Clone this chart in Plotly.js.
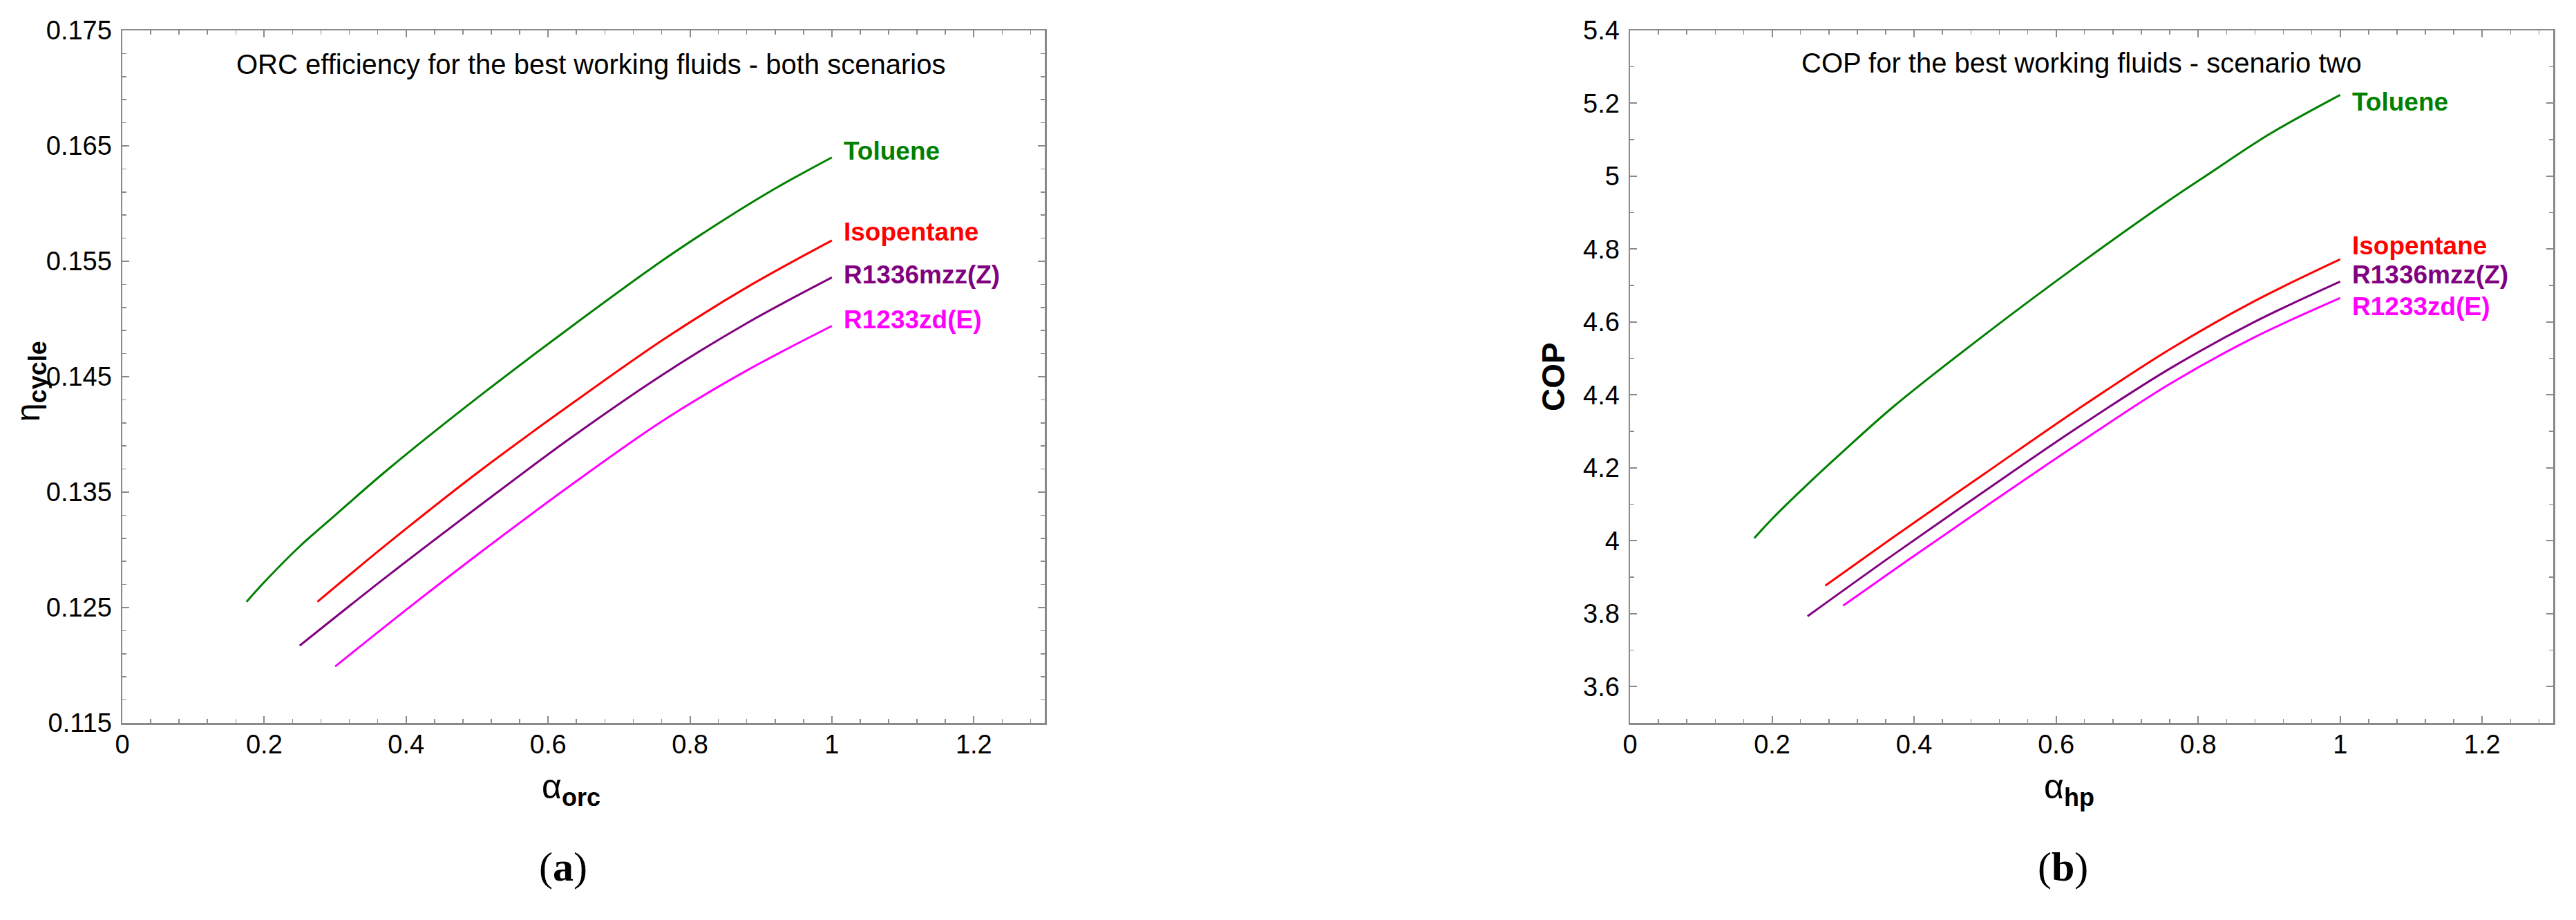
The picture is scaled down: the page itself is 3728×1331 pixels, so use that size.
<!DOCTYPE html>
<html>
<head>
<meta charset="utf-8">
<script src="https://cdn.plot.ly/plotly-3.0.1.min.js"></script>
<style>
  html, body { margin: 0; padding: 0; background: #fff; }
  #chart { width: 3728px; height: 1331px; }
</style>
</head>
<body>
<div id="chart"></div>
<script>
// (a) ORC efficiency vs alpha_orc
var fluids = ['Toluene', 'Isopentane', 'R1336mzz(Z)', 'R1233zd(E)'];
var fluidColors = ['#008000', '#ff0000', '#800080', '#ff00ff'];

var orcTolueneX = [0.175, 0.2, 0.25, 0.3, 0.373, 0.503, 0.632, 0.762, 0.843, 0.92, 1.0];
var orcTolueneY = [0.1255, 0.1272, 0.1303, 0.1330, 0.1369, 0.1433, 0.1493, 0.1551, 0.1584, 0.1613, 0.1640];
var orcIsoX = [0.275, 0.373, 0.503, 0.632, 0.762, 0.879, 1.0];
var orcIsoY = [0.1255, 0.1305, 0.1368, 0.1426, 0.1482, 0.1527, 0.1568];
var orcR1336X = [0.25, 0.373, 0.503, 0.632, 0.762, 0.879, 1.0];
var orcR1336Y = [0.1217, 0.1277, 0.1338, 0.1397, 0.1452, 0.1496, 0.1536];
var orcR1233X = [0.30, 0.402, 0.503, 0.632, 0.762, 0.879, 1.0];
var orcR1233Y = [0.1199, 0.1249, 0.1297, 0.1356, 0.1412, 0.1455, 0.1494];

// (b) heat pump COP vs alpha_hp
var hpTolueneX = [0.175, 0.2, 0.25, 0.3, 0.371, 0.5, 0.63, 0.76, 0.814, 0.9, 1.0];
var hpTolueneY = [4.007, 4.06, 4.155, 4.245, 4.368, 4.566, 4.755, 4.935, 5.005, 5.115, 5.223];
var hpIsoX = [0.275, 0.371, 0.5, 0.63, 0.76, 0.877, 1.0];
var hpIsoY = [3.877, 4.01, 4.185, 4.36, 4.525, 4.655, 4.772];
var hpR1336X = [0.25, 0.371, 0.5, 0.63, 0.76, 0.877, 1.0];
var hpR1336Y = [3.793, 3.962, 4.137, 4.31, 4.472, 4.598, 4.711];
var hpR1233X = [0.30, 0.39, 0.5, 0.63, 0.76, 0.877, 1.0];
var hpR1233Y = [3.822, 3.945, 4.093, 4.265, 4.43, 4.556, 4.666];

var orcSeries = [[orcTolueneX, orcTolueneY], [orcIsoX, orcIsoY], [orcR1336X, orcR1336Y], [orcR1233X, orcR1233Y]];
var hpSeries = [[hpTolueneX, hpTolueneY], [hpIsoX, hpIsoY], [hpR1336X, hpR1336Y], [hpR1233X, hpR1233Y]];

var orcLabelY = [0.16458, 0.15757, 0.15386, 0.14997];
var hpLabelY = [5.204, 4.809, 4.730, 4.643];

var sans = 'Liberation Sans, Arial, sans-serif';
var data = [];
var annotations = [];
for (var i = 0; i < fluids.length; i++) {
    data.push({
        x: orcSeries[i][0], y: orcSeries[i][1],
        xaxis: 'x', yaxis: 'y',
        type: 'scatter', mode: 'lines', name: fluids[i],
        line: {color: fluidColors[i], width: 3, shape: 'spline', smoothing: 1.0},
        hoverinfo: 'skip'
    });
    data.push({
        x: hpSeries[i][0], y: hpSeries[i][1],
        xaxis: 'x2', yaxis: 'y2',
        type: 'scatter', mode: 'lines', name: fluids[i],
        line: {color: fluidColors[i], width: 3, shape: 'spline', smoothing: 1.0},
        hoverinfo: 'skip'
    });
    annotations.push({
        xref: 'x', yref: 'y', x: 1.015, y: orcLabelY[i],
        xanchor: 'left', yanchor: 'middle', showarrow: false,
        text: '<b>' + fluids[i] + '</b>',
        font: {family: sans, size: 37, color: fluidColors[i]}
    });
    annotations.push({
        xref: 'x2', yref: 'y2', x: 1.015, y: hpLabelY[i],
        xanchor: 'left', yanchor: 'middle', showarrow: false,
        text: '<b>' + fluids[i] + '</b>',
        font: {family: sans, size: 37, color: fluidColors[i]}
    });
}

var textFont = {family: sans, size: 40, color: '#000'};
var H = 1331, W = 3728;

// in-plot titles
annotations.push({xref: 'x', yref: 'paper', x: 0.66, y: 1 - 93 / H, xanchor: 'center', yanchor: 'middle',
    showarrow: false, text: 'ORC efficiency for the best working fluids - both scenarios', font: textFont});
annotations.push({xref: 'x2', yref: 'paper', x: 0.636, y: 1 - 91 / H, xanchor: 'center', yanchor: 'middle',
    showarrow: false, text: 'COP for the best working fluids - scenario two', font: textFont});

// axis labels
annotations.push({xref: 'paper', yref: 'paper', x: 44 / W, y: 1 - 552 / H, xanchor: 'center', yanchor: 'middle',
    showarrow: false, textangle: -90,
    text: 'η<sub><span style="font-size:36px"><b>cycle</b></span></sub>',
    font: {family: sans, size: 48, color: '#000'}});
annotations.push({xref: 'paper', yref: 'paper', x: 826 / W, y: 1 - 1142 / H, xanchor: 'center', yanchor: 'middle',
    showarrow: false, text: 'α<sub><span style="font-size:36px"><b>orc</b></span></sub>',
    font: {family: sans, size: 50, color: '#000'}});
annotations.push({xref: 'paper', yref: 'paper', x: 2248 / W, y: 1 - 545 / H, xanchor: 'center', yanchor: 'middle',
    showarrow: false, textangle: -90, text: '<b>COP</b>',
    font: {family: sans, size: 46, color: '#000'}});
annotations.push({xref: 'paper', yref: 'paper', x: 2994 / W, y: 1 - 1142 / H, xanchor: 'center', yanchor: 'middle',
    showarrow: false, text: 'α<sub><span style="font-size:36px"><b>hp</b></span></sub>',
    font: {family: sans, size: 50, color: '#000'}});

// panel letters
annotations.push({xref: 'paper', yref: 'paper', x: 815 / W, y: 1 - 1254 / H, xanchor: 'center', yanchor: 'middle',
    showarrow: false, text: '(<b>a</b>)', font: {family: 'Liberation Serif, Times New Roman, serif', size: 60, color: '#000'}});
annotations.push({xref: 'paper', yref: 'paper', x: 2985 / W, y: 1 - 1254 / H, xanchor: 'center', yanchor: 'middle',
    showarrow: false, text: '(<b>b</b>)', font: {family: 'Liberation Serif, Times New Roman, serif', size: 60, color: '#000'}});

var frameColor = '#8a8a8a';
function xAxisDef(domain) {
    return {
        domain: domain, range: [0, 1.3], tick0: 0, dtick: 0.2,
        showgrid: false, zeroline: false,
        showline: true, mirror: 'ticks', linecolor: frameColor, linewidth: 2.5,
        ticks: 'inside', ticklen: 10, tickwidth: 2, tickcolor: frameColor,
        minor: {dtick: 0.04, ticks: 'inside', ticklen: 6, tickwidth: 1.5, tickcolor: frameColor, showgrid: false},
        ticklabelstandoff: -4,
        tickfont: {family: sans, size: 38, color: '#000'},
        fixedrange: true
    };
}
function yAxisDef(domain, range, tick0, dtick, minorDtick, fmt) {
    var ax = {
        domain: domain, range: range, tick0: tick0, dtick: dtick,
        showgrid: false, zeroline: false,
        showline: true, mirror: 'ticks', linecolor: frameColor, linewidth: 2.5,
        ticks: 'inside', ticklen: 10, tickwidth: 2, tickcolor: frameColor,
        minor: {dtick: minorDtick, tick0: tick0, ticks: 'inside', ticklen: 6, tickwidth: 1.5, tickcolor: frameColor, showgrid: false},
        ticklabelstandoff: 5,
        tickfont: {family: sans, size: 38, color: '#000'},
        fixedrange: true
    };
    if (fmt) ax.tickformat = fmt;
    return ax;
}

var yDomain = [1 - 1046 / H, 1 - 44 / H];
var layout = {
    width: W, height: H,
    margin: {l: 0, r: 0, t: 0, b: 0},
    paper_bgcolor: '#fff', plot_bgcolor: '#fff',
    showlegend: false,
    xaxis: Object.assign(xAxisDef([177 / W, 1512 / W]), {anchor: 'y'}),
    yaxis: Object.assign(yAxisDef(yDomain, [0.115, 0.175], 0.115, 0.01, 0.002, '.3f'), {anchor: 'x'}),
    xaxis2: Object.assign(xAxisDef([2359 / W, 3695 / W]), {anchor: 'y2'}),
    yaxis2: Object.assign(yAxisDef(yDomain, [3.5, 5.4], 3.6, 0.2, 0.1, null), {anchor: 'x2'}),
    annotations: annotations
};

Plotly.newPlot('chart', data, layout, {displayModeBar: false, staticPlot: true});
</script>
</body>
</html>
